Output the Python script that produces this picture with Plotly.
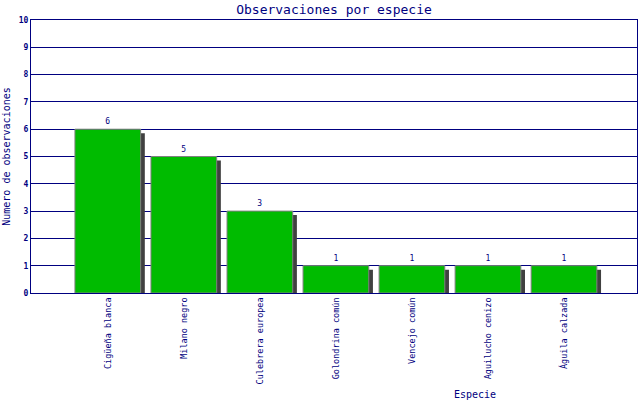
import plotly.graph_objects as go

# datos
especies = ["Cigüeña blanca", "Milano negro", "Culebrera europea", "Golondrina común",
            "Vencejo común", "Aguilucho cenizo", "Águila calzada"]
observaciones = [6, 5, 3, 1, 1, 1, 1]

NAVY = "#000080"
FONT = "DejaVu Sans Mono"

pos = list(range(len(especies)))
bar_w = 0.864

fig = go.Figure()

# sombra de las barras (desplazada a la derecha y hacia abajo)
fig.add_trace(go.Bar(
    x=pos,
    y=[v - 0.146 for v in observaciones],
    width=bar_w,
    offset=-bar_w / 2 + 0.055,
    marker=dict(color="#404040", line=dict(width=0)),
    hoverinfo="skip",
    showlegend=False,
))

# barras principales
fig.add_trace(go.Bar(
    x=pos,
    y=observaciones,
    width=bar_w,
    offset=-bar_w / 2,
    marker=dict(color="#00BB00", line=dict(width=1, color="#808080")),
    text=[str(v) for v in observaciones],
    textposition="outside",
    textfont=dict(family=FONT, size=8, color=NAVY),
    cliponaxis=False,
    showlegend=False,
))

fig.update_layout(
    width=640,
    height=400,
    barmode="overlay",
    plot_bgcolor="white",
    paper_bgcolor="white",
    margin=dict(l=31, r=3, t=20, b=107, autoexpand=False),
    title=dict(
        text="Observaciones por especie",
        font=dict(family=FONT, size=13, color=NAVY),
        x=0.5, xref="paper",
        y=1 - 9 / 400, yref="container", yanchor="middle",
    ),
    xaxis=dict(
        range=[-1.01, 6.96],
        tickmode="array",
        tickvals=pos,
        ticktext=especies,
        tickangle=-90,
        tickfont=dict(family=FONT, size=8.5, color=NAVY),
        showgrid=False,
        showline=True,
        linecolor=NAVY,
        linewidth=1,
        mirror=True,
        ticks="",
        zeroline=False,
        automargin=False,
    ),
    yaxis=dict(
        range=[0, 10],
        dtick=1,
        tickfont=dict(family=FONT, size=8, color=NAVY, weight="bold"),
        showgrid=True,
        gridcolor=NAVY,
        gridwidth=1,
        showline=True,
        linecolor=NAVY,
        linewidth=1,
        mirror=True,
        ticks="",
        zeroline=False,
        automargin=False,
        title=dict(text="Numero de observaciones",
                   font=dict(family=FONT, size=10, color=NAVY), standoff=6),
    ),
    annotations=[dict(
        text="Especie", xref="paper", yref="paper",
        x=(475 - 31) / 606, y=-(394 - 293) / 273,
        xanchor="center", yanchor="middle", showarrow=False,
        font=dict(family=FONT, size=10, color=NAVY),
    )],
)

# sin margen del body para que la figura empiece en (0, 0)
fig.write_html("out.html", config={"displayModeBar": False},
               post_script="document.body.style.margin='0';")
